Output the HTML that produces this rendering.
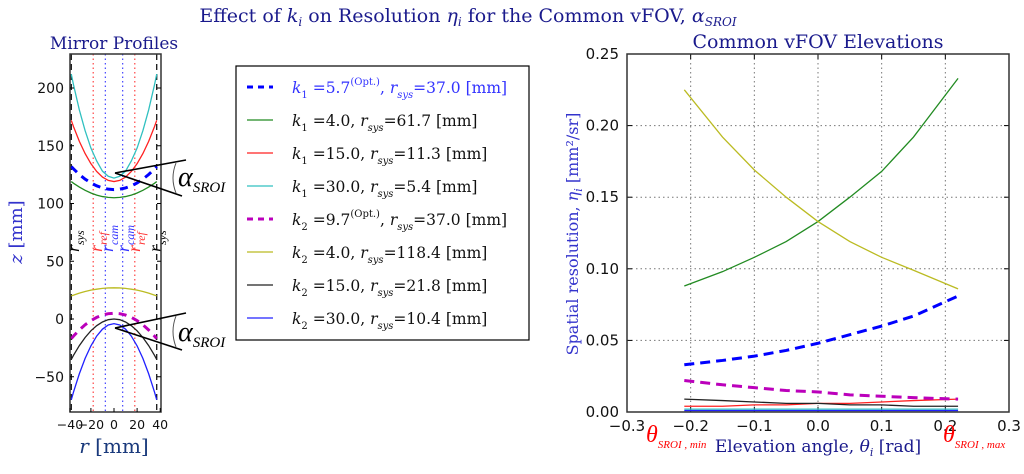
<!DOCTYPE html>
<html><head><meta charset="utf-8"><style>
body{margin:0;background:#fff;}
svg text{font-family:"DejaVu Serif","Liberation Serif",serif;}
.sans{font-family:"DejaVu Sans","Liberation Sans",sans-serif !important;}
.lib{font-family:"Liberation Serif",serif !important;}
</style></head><body>
<svg id="fig" width="1024" height="469" viewBox="0 0 1024 469" xmlns="http://www.w3.org/2000/svg">
<text x="468" y="22" text-anchor="middle" font-size="19" fill="#1a1a8c">Effect of <tspan font-style="italic">k<tspan font-size="12" dy="4">i</tspan></tspan><tspan dy="-4"> on Resolution </tspan><tspan font-style="italic">η<tspan font-size="12" dy="4">i</tspan></tspan><tspan dy="-4"> for the Common vFOV, </tspan><tspan font-style="italic">α<tspan font-size="12" dy="4">SROI</tspan></tspan></text>

<text x="114" y="49" text-anchor="middle" font-size="17" fill="#1a1a8c">Mirror Profiles</text>
<g>
<rect x="236" y="66" width="293" height="274" fill="#fff" stroke="#000" stroke-width="1.2"/>
<g id="legend-entries"></g>
</g>
<g id="left"></g>
<text transform="translate(22,232) rotate(-90)" text-anchor="middle" font-size="18" fill="#3333cc"><tspan font-style="italic">z</tspan> [mm]</text>
<text x="114" y="453" text-anchor="middle" font-size="20" fill="#1a3a7c"><tspan font-style="italic">r</tspan> [mm]</text>

<text x="818" y="48" text-anchor="middle" font-size="19" fill="#1a1a8c">Common vFOV Elevations</text>
<g id="right"></g>
<text transform="translate(578,234) rotate(-90)" text-anchor="middle" font-size="16" fill="#3333cc">Spatial resolution, <tspan font-style="italic">η<tspan font-size="11" dy="4">i</tspan></tspan><tspan dy="-4"> [mm²/sr]</tspan></text>
<text x="818" y="452" text-anchor="middle" font-size="17" fill="#1a1a8c">Elevation angle, <tspan font-style="italic">θ<tspan font-size="11" dy="4">i</tspan></tspan><tspan dy="-4"> [rad]</tspan></text>
<text class="lib" x="646" y="442" font-size="24" fill="#ff0000" font-style="italic">θ<tspan font-size="11" dy="6">SROI , min</tspan></text>
<text class="lib" x="943" y="442" font-size="24" fill="#ff0000" font-style="italic">θ<tspan font-size="11" dy="6">SROI , max</tspan></text>
</svg>
<script>
const NS="http://www.w3.org/2000/svg";
function mk(p,tag,a){const e=document.createElementNS(NS,tag);for(const k in a)e.setAttribute(k,a[k]);p.appendChild(e);return e;}

// ---------- Left data ----------
const rVals=[-37,-35,-30,-25,-20,-15,-10,-5,0,5,10,15,20,25,30,35,37];
const zK1opt=[132,129.9,125.1,121.1,117.8,115.3,113.5,112.4,112,112.4,113.5,115.3,117.8,121.1,125.1,129.9,132];
const zK1a=[119,117.5,114.2,111.4,109.1,107.3,106,105.3,105,105.3,106,107.3,109.1,111.4,114.2,117.5,119];
const zK1b=[172,166.4,153.8,143.2,134.5,127.7,122.9,120,119,120,122.9,127.7,134.5,143.2,153.8,166.4,172];
const zK1c=[212,202.5,181,163,148,136.8,128,123.6,122,123.6,128,136.8,148,163,181,202.5,212];
const zK2opt=[-17,-14.7,-9.5,-5,-1.4,1.4,3.4,4.6,5,4.6,3.4,1.4,-1.4,-5,-9.5,-14.7,-17];
const zK2a=[20,20.7,22.4,23.8,25,25.8,26.5,26.9,27,26.9,26.5,25.8,25,23.8,22.4,20.7,20];
const zK2b=[-35,-31.3,-23,-16,-10.2,-5.8,-2.6,-0.6,0,-0.6,-2.6,-5.8,-10.2,-16,-23,-31.3,-35];
const zK2c=[-70,-63,-47.4,-34.1,-23.3,-14.8,-8.8,-5.2,-4,-5.2,-8.8,-14.8,-23.3,-34.1,-47.4,-63,-70];
const leftSeries=[
 {n:'k1-opt',z:zK1opt,c:'#0000ff',w:3,d:'8,6'},
 {n:'k1-4',z:zK1a,c:'#228b22',w:1.3},
 {n:'k1-15',z:zK1b,c:'#ff2020',w:1.3},
 {n:'k1-30',z:zK1c,c:'#30c0c0',w:1.3},
 {n:'k2-opt',z:zK2opt,c:'#bb00bb',w:3,d:'8,6'},
 {n:'k2-4',z:zK2a,c:'#bbbb22',w:1.3},
 {n:'k2-15',z:zK2b,c:'#222222',w:1.3},
 {n:'k2-30',z:zK2c,c:'#2020ff',w:1.3}];
const zTicks=[200,150,100,50,0,-50];
const rTicks=[-40,-20,0,20,40];
const L={x0:70,x1:161,y0:54,y1:412};
const sx=r=>114+r*1.155;
const sz=z=>319-z*1.155;
const left=document.getElementById('left');
mk(left,'rect',{x:L.x0,y:L.y0,width:L.x1-L.x0,height:L.y1-L.y0,fill:'#fff'});
[[-18,'#ff4444'],[18,'#ff4444'],[-7.5,'#4444ff'],[7.5,'#4444ff']].forEach(([r,c])=>{
 const l=mk(left,'line',{x1:sx(r),x2:sx(r),y1:L.y0,y2:L.y1,stroke:c,'stroke-width':1.2,'stroke-dasharray':'1.5,3'});
 
 
});
[-37,37].forEach(r=>{const l=mk(left,'line',{x1:sx(r),x2:sx(r),y1:L.y0,y2:L.y1,stroke:'#000','stroke-width':1.2,'stroke-dasharray':'6,4'});
 
 });
[[79,'#000','r','sys'],[102,'#ff3333','r','ref'],[113,'#3333ff','r','cam'],[129,'#3333ff','r','cam'],[140,'#ff3333','r','ref'],[161,'#000','r','sys']].forEach(([x,c,a,b])=>{
 const t=mk(left,'text',{transform:`translate(${x},252) rotate(-90)`,'font-size':18,fill:c,'font-style':'italic',class:'lib'});
 
 
 t.innerHTML=`${a}<tspan font-size="12" dy="5">${b}</tspan>`;
});
leftSeries.forEach(s=>{
 const p=mk(left,'polyline',{points:rVals.map((r,i)=>sx(r)+','+sz(s.z[i])).join(' '),fill:'none',stroke:s.c,'stroke-width':s.w});
 if(s.d)p.setAttribute('stroke-dasharray',s.d);
 
 
});
mk(left,'rect',{x:L.x0,y:L.y0,width:L.x1-L.x0,height:L.y1-L.y0,fill:'none',stroke:'#333','stroke-width':1.5});
zTicks.forEach(z=>{const y=sz(z);
 mk(left,'line',{x1:L.x0,x2:L.x0+4,y1:y,y2:y,stroke:'#000'});mk(left,'line',{x1:L.x1,x2:L.x1-4,y1:y,y2:y,stroke:'#000'});
 const t=mk(left,'text',{x:L.x0-6,y:y+5,'text-anchor':'end','font-size':14,class:'sans',fill:'#111'});t.textContent=z<0?'−'+(-z):z;
 
 });
rTicks.forEach(r=>{const x=Math.min(Math.max(sx(r),L.x0),L.x1);
 mk(left,'line',{x1:x,x2:x,y1:L.y1,y2:L.y1-4,stroke:'#000'});
 const t=mk(left,'text',{x:x,y:L.y1+17,'text-anchor':'middle','font-size':12.5,class:'sans',fill:'#111'});t.textContent=r<0?'−'+(-r):r;
 
 });
[[115,173,186,160,182,196,178],[115,328,186,313,182,350,333]].forEach(a=>{
 mk(left,'line',{x1:a[0],y1:a[1],x2:a[2],y2:a[3],stroke:'#000','stroke-width':1.6});
 mk(left,'line',{x1:a[0],y1:a[1],x2:a[4],y2:a[5],stroke:'#000','stroke-width':1.6});
 mk(left,'path',{d:`M176,${a[3]+3} Q170,${(a[3]+a[5])/2} 176,${a[5]-3}`,fill:'none',stroke:'#555','stroke-width':1});
 const t=mk(left,'text',{x:178,y:a[6]+8,'font-size':28,'font-style':'italic',fill:'#000',class:'lib'});
 
 
 t.innerHTML='α<tspan font-size="15" dy="6">SROI</tspan>';
});

// ---------- Legend ----------
const legLabels=[
 ['1','5.7','37.0',true],['1','4.0','61.7'],['1','15.0','11.3'],['1','30.0','5.4'],
 ['2','9.7','37.0',true],['2','4.0','118.4'],['2','15.0','21.8'],['2','30.0','10.4']];
const lg=document.getElementById('legend-entries');
legLabels.forEach((l,i)=>{const s=leftSeries[i];const y=87+i*33;
 const ln=mk(lg,'line',{x1:247,x2:273,y1:y,y2:y,stroke:s.c,'stroke-width':s.w});
 if(s.d)ln.setAttribute('stroke-dasharray','6,5');
 
 
 const t=mk(lg,'text',{x:292,y:y+6,'font-size':15.5,fill:i==0?'#3333ff':'#111'});
 
 
 t.innerHTML=`<tspan font-style="italic">k</tspan><tspan font-size="10" dy="5">${l[0]}</tspan><tspan dy="-5"> =${l[1]}</tspan>`+(l[3]?`<tspan font-size="10" dy="-8">(Opt.)</tspan><tspan dy="8">,  </tspan>`:`<tspan>,  </tspan>`)+`<tspan font-style="italic">r</tspan><tspan font-size="10" dy="5" font-style="italic">sys</tspan><tspan dy="-5">=${l[2]} [mm]</tspan>`;
});

// ---------- Right data ----------
const thetas=[-0.21,-0.15,-0.1,-0.05,0,0.05,0.1,0.15,0.22];
const etaK1opt=[0.033,0.036,0.039,0.043,0.048,0.054,0.060,0.067,0.081];
const etaK1a=[0.088,0.098,0.108,0.119,0.133,0.150,0.168,0.192,0.233];
const etaK1b=[0.004,0.004,0.005,0.005,0.006,0.006,0.007,0.008,0.009];
const etaK1c=[0.002,0.002,0.002,0.002,0.002,0.002,0.002,0.002,0.002];
const etaK2opt=[0.022,0.019,0.017,0.015,0.014,0.012,0.011,0.010,0.009];
const etaK2a=[0.225,0.192,0.169,0.150,0.133,0.119,0.108,0.099,0.086];
const etaK2b=[0.009,0.008,0.007,0.006,0.006,0.005,0.005,0.004,0.004];
const etaK2c=[0.001,0.001,0.001,0.001,0.001,0.001,0.001,0.001,0.001];
const etaSeries=[etaK1opt,etaK1a,etaK1b,etaK1c,etaK2opt,etaK2a,etaK2b,etaK2c];
const xTicks=[-0.3,-0.2,-0.1,0.0,0.1,0.2,0.3];
const yTicks=[0.00,0.05,0.10,0.15,0.20,0.25];
const R={x0:627,x1:1009,y0:54,y1:412};
const tx=t=>R.x0+(t+0.3)/0.6*(R.x1-R.x0);
const ty=v=>R.y1-v/0.25*(R.y1-R.y0);
const right=document.getElementById('right');
xTicks.forEach(t=>{const x=tx(t);
 if(t>-0.3&&t<0.3)mk(right,'line',{x1:x,x2:x,y1:R.y0,y2:R.y1,stroke:'#777','stroke-dasharray':'1.5,3'});
 mk(right,'line',{x1:x,x2:x,y1:R.y1,y2:R.y1-5,stroke:'#000'});mk(right,'line',{x1:x,x2:x,y1:R.y0,y2:R.y0+5,stroke:'#000'});
 const tt=mk(right,'text',{x:x,y:R.y1+19,'text-anchor':'middle','font-size':15,class:'sans',fill:'#111'});tt.textContent=(t<0?'−':'')+Math.abs(t).toFixed(1);
 
 });
yTicks.forEach(v=>{const y=ty(v);
 if(v>0&&v<0.25)mk(right,'line',{x1:R.x0,x2:R.x1,y1:y,y2:y,stroke:'#777','stroke-dasharray':'1.5,3'});
 mk(right,'line',{x1:R.x0,x2:R.x0+5,y1:y,y2:y,stroke:'#000'});mk(right,'line',{x1:R.x1,x2:R.x1-5,y1:y,y2:y,stroke:'#000'});
 const tt=mk(right,'text',{x:R.x0-8,y:y+5,'text-anchor':'end','font-size':15,class:'sans',fill:'#111'});tt.textContent=v.toFixed(2);
 
 });
etaSeries.forEach((arr,i)=>{const s=leftSeries[i];
 const p=mk(right,'polyline',{points:thetas.map((t,j)=>tx(t)+','+ty(arr[j])).join(' '),fill:'none',stroke:s.c,'stroke-width':s.w});
 if(s.d)p.setAttribute('stroke-dasharray','10,6');
 
 
});
mk(right,'rect',{x:R.x0,y:R.y0,width:R.x1-R.x0,height:R.y1-R.y0,fill:'none',stroke:'#333','stroke-width':1.5});
</script>
</body></html>
